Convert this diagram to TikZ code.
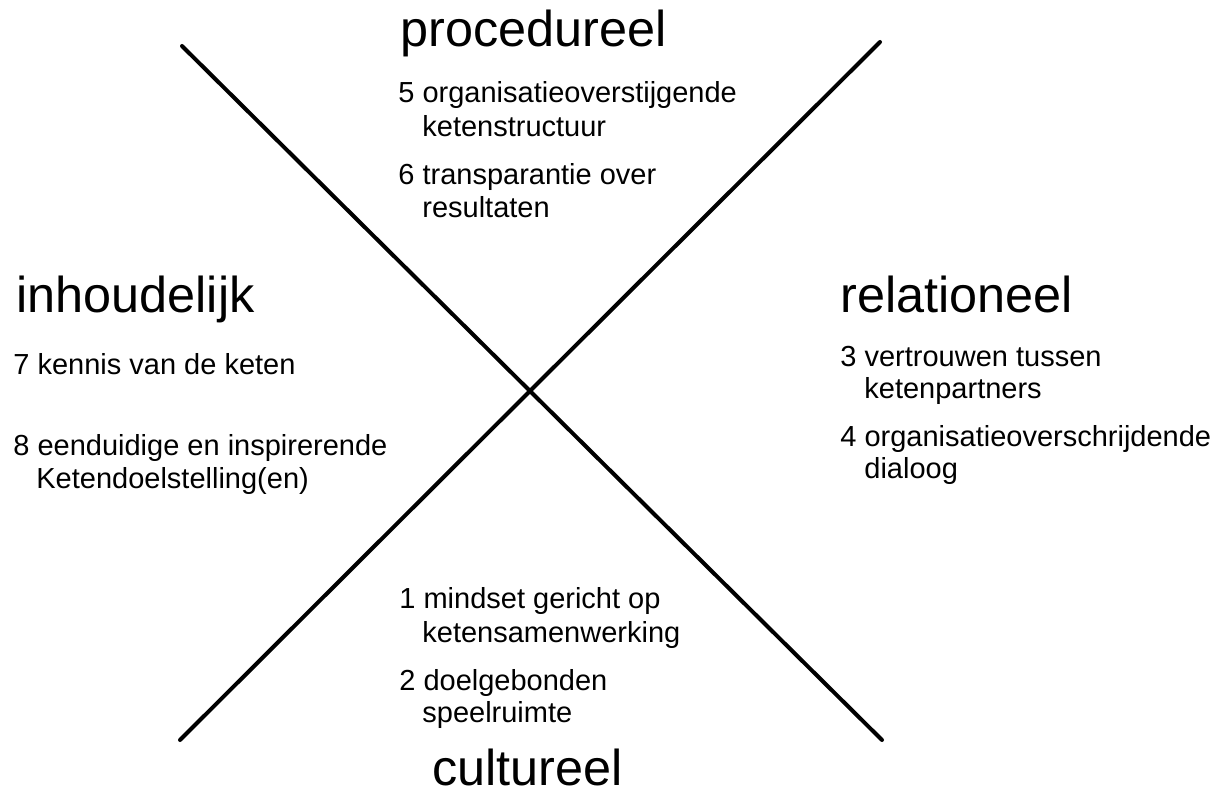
\documentclass[tikz,border=0pt]{standalone}
\usepackage{fontspec}
\setmainfont{Liberation Sans}

\begin{document}
\begin{tikzpicture}[x=0.5pt, y=-0.5pt,
    head/.style = {anchor=base west, inner sep=0, font=\fontsize{25.2}{30}\selectfont},
    item/.style = {anchor=base west, inner sep=0, font=\fontsize{14.5}{17}\selectfont},
    cross/.style = {line width=2pt, line cap=round}]
                \useasboundingbox (0,0) rectangle (1220,796);

                \coordinate (tl) at (182,46);
                \coordinate (tr) at (880,42);
                \coordinate (bl) at (180,740);
                \coordinate (br) at (882,740);

                \draw[cross] (tl) -- (br);
                \draw[cross] (tr) -- (bl);

                \node[head] at (400,47) (proc) {procedureel};
                \node[head] at (16,313) (inh) {inhoudelijk};
                \node[head] at (840,313) (rel) {relationeel};
                \node[head] at (432,785) (cult) {cultureel};

                \node[item] at (398,103) (p5) {5 organisatieoverstijgende};
                \node[item] at (422,137) (p5b) {ketenstructuur};
                \node[item] at (398,185) (p6) {6 transparantie over};
                \node[item] at (422,218) (p6b) {resultaten};

                \node[item] at (840,366) (r3) {3 vertrouwen tussen};
                \node[item] at (864,399) (r3b) {ketenpartners};
                \node[item] at (840,446) (r4) {4 organisatieoverschrijdende};
                \node[item] at (864,478) (r4b) {dialoog};

                \node[item] at (13,375) (i7) {7 kennis van de keten};
                \node[item] at (13,455) (i8) {8 eenduidige en inspirerende};
                \node[item] at (36,488) (i8b) {Ketendoelstelling(en)};

                \node[item] at (399,608) (c1) {1 mindset gericht op};
                \node[item] at (422,642) (c1b) {ketensamenwerking};
                \node[item] at (399,690) (c2) {2 doelgebonden};
                \node[item] at (422,722) (c2b) {speelruimte};
            \end{tikzpicture}
\end{document}
